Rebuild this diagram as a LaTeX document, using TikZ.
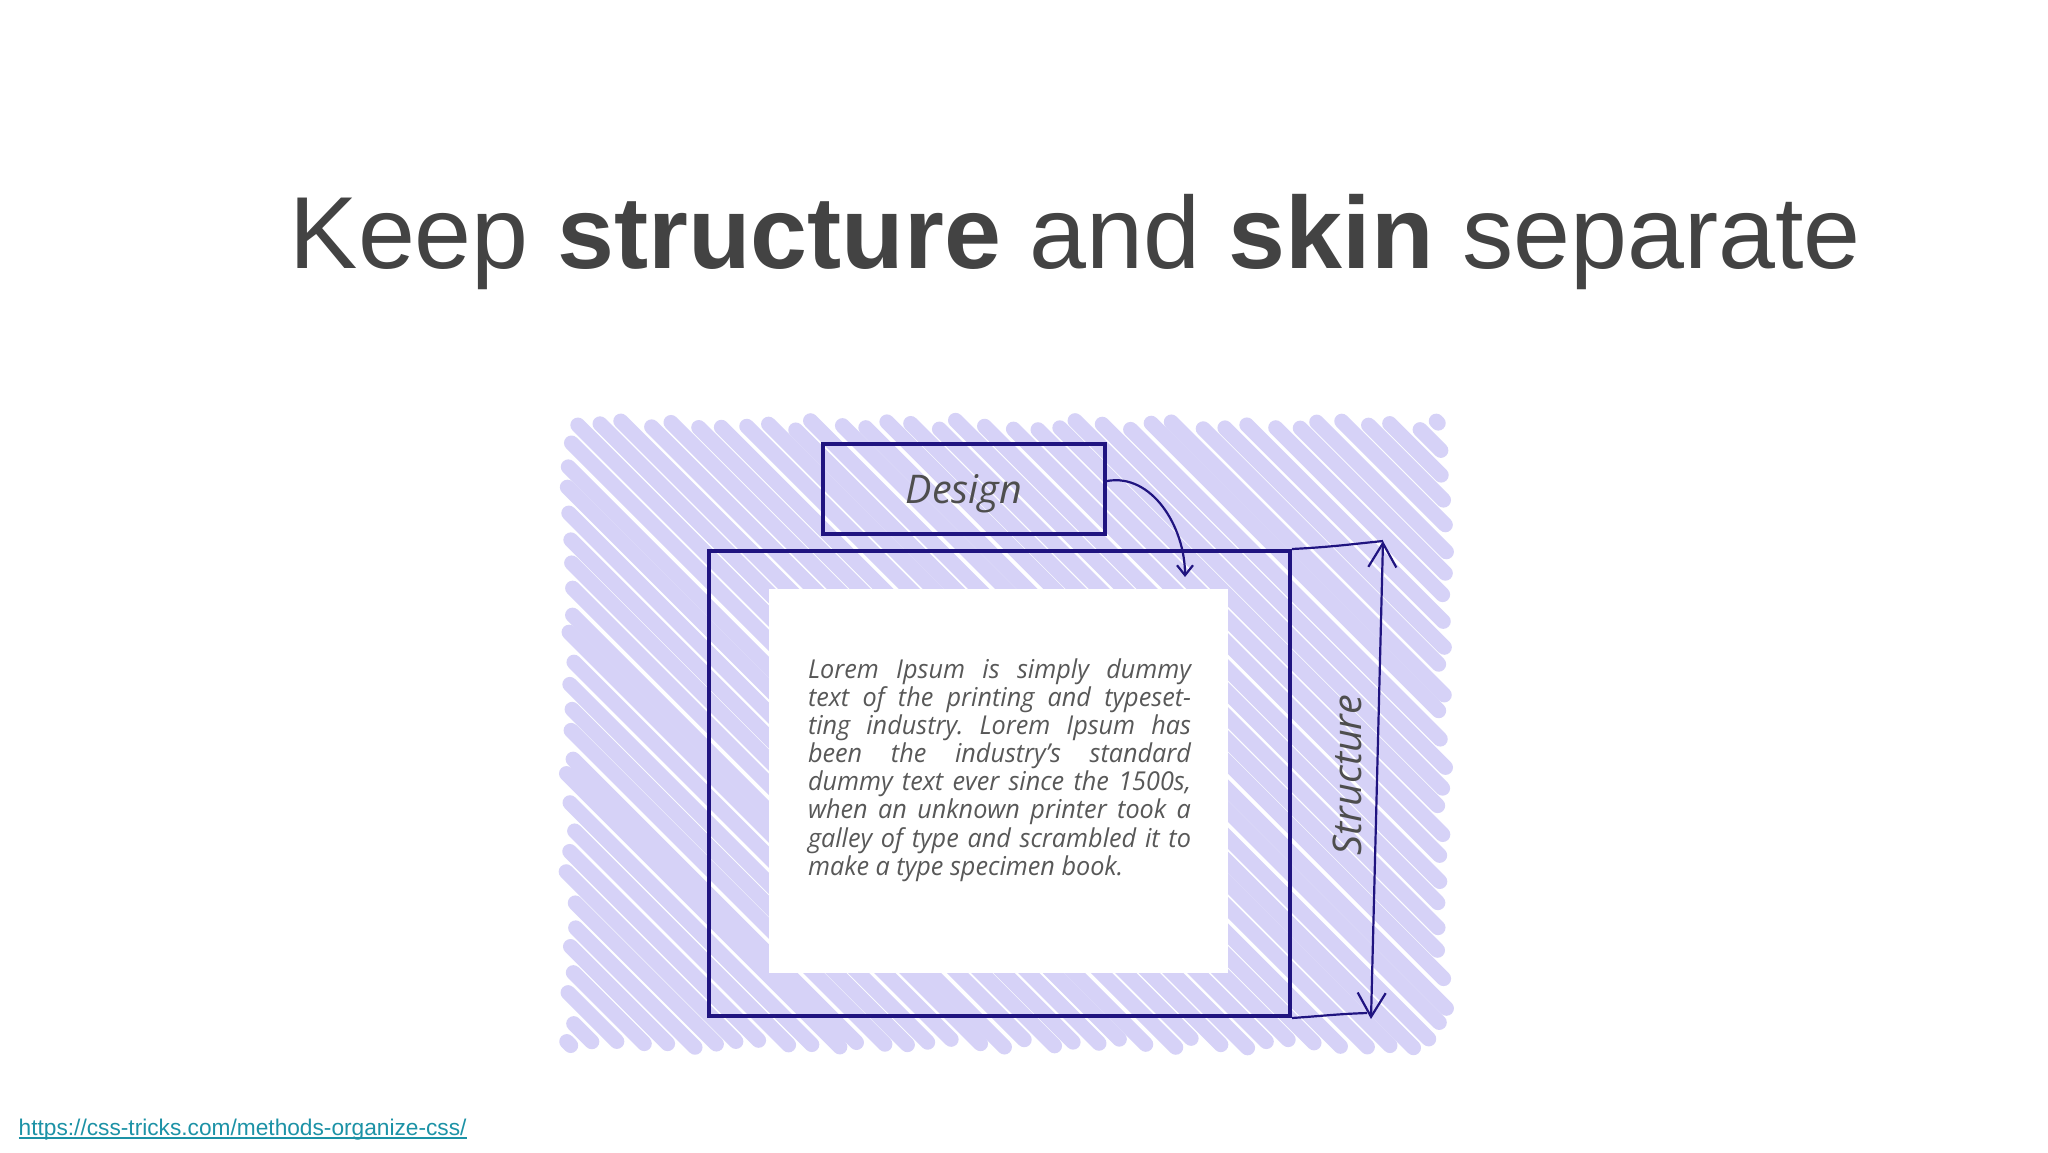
\documentclass[tikz,border=0pt]{standalone}
\usepackage{fontspec}
\setmainfont{Liberation Sans}
\newfontfamily\handfont{Open Sans}
\newfontfamily\lorfont[FakeStretch=0.97]{Open Sans}
\usetikzlibrary{arrows.meta}
\definecolor{navy}{RGB}{32,20,128}
\definecolor{lav}{RGB}{214,210,247}
\definecolor{titlegray}{RGB}{67,67,67}
\definecolor{textgray}{RGB}{78,78,78}
\definecolor{lorgray}{RGB}{88,88,88}
\definecolor{linkcol}{RGB}{28,146,166}
\tikzset{
  hatchline/.style={lav, line width=15pt, line cap=round},
  boxline/.style={draw=navy, line width=4pt},
  pen/.style={draw=navy, line width=2.2pt},
  hand/.style={font=\handfont\itshape\fontsize{39.5}{46}\selectfont, text=textgray}
}
\begin{document}
\begin{tikzpicture}[x=1pt,y=-1pt]
\useasboundingbox (0,0) rectangle (2048,1152);
\fill[white] (0,0) rectangle (2048,1152);
% hatched background
\pgfmathsetseed{7}
\foreach \i in {0,...,64}{
  \pgfmathsetmacro\d{-1041+24*\i+rnd*4}
  \pgfmathsetmacro\xa{max(559,413-\d)+7+rnd*10}
  \pgfmathsetmacro\xb{min(1454,1055-\d)-7-rnd*10}
  \pgfmathsetmacro\ya{\xa+\d}
  \pgfmathsetmacro\yb{\xb+\d}
  \ifdim\xa pt<\xb pt
    \draw[hatchline] (\xa,\ya) -- (\xb,\yb);
  \fi
}
% white content area
\node[fill=white, minimum width=459pt, minimum height=384pt, inner sep=0] (inner) at (998.5,781) {};
% structure box
\node[boxline, minimum width=581pt, minimum height=465pt, inner sep=0] (struct) at (999.5,783.5) {};
% design box
\node[boxline, hand, minimum width=282pt, minimum height=90pt, text height=28pt, text depth=0pt, inner sep=0] (design) at (964,489) {Design};
% lorem text
\node[font=\lorfont\itshape\fontsize{26}{28.1}\selectfont\frenchspacing, text=lorgray, align=left, inner sep=0] (lorem) at (999.5,770) {%
\makebox[383pt][s]{Lorem Ipsum is simply dummy}\\
\makebox[383pt][s]{text of the printing and typeset-}\\
\makebox[383pt][s]{ting industry. Lorem Ipsum has}\\
\makebox[383pt][s]{been the industry’s standard}\\
\makebox[383pt][s]{dummy text ever since the 1500s,}\\
\makebox[383pt][s]{when an unknown printer took a}\\
\makebox[383pt][s]{galley of type and scrambled it to}\\
make a type specimen book.};
% design arrow
\coordinate (dtip) at (1185,577);
\draw[pen, -{Straight Barb[length=10pt,width=16pt]}] ([yshift=8pt]design.east) .. controls +(45,-8) and +(0,-50) .. (dtip);
% structure dimension
\coordinate (sa) at (1383,541);
\coordinate (sb) at (1371,1019);
\coordinate (sc) at (1367,1013);
\draw[pen] (struct.north east) .. controls +(40,-2) and +(-30,3) .. (sa);
\draw[pen] (struct.south east) .. controls +(30,-2) and +(-30,1) .. (sc);
\draw[pen, {Straight Barb[length=24pt,width=28pt]}-{Straight Barb[length=24pt,width=28pt]}] (sa) -- (sb);
\node[hand, rotate=90, text height=28pt, text depth=0pt, inner sep=0] (structlabel) at (1347,775) {Structure};
% title
\node[anchor=base west, inner sep=0, text=titlegray, font=\fontsize{102.4}{110}\selectfont] (title) at (289.5,268) {Keep \textbf{structure} and \textbf{skin} separate};
% link
\node[anchor=base west, inner sep=0, text=linkcol, font=\fontsize{22.7}{26}\selectfont] (link) at (18.5,1135) {https://css-tricks.com/methods-organize-css/};
\draw[linkcol, line width=1.6pt] ([yshift=-3pt]link.base west) -- ([yshift=-3pt]link.base east);
\end{tikzpicture}
\end{document}
